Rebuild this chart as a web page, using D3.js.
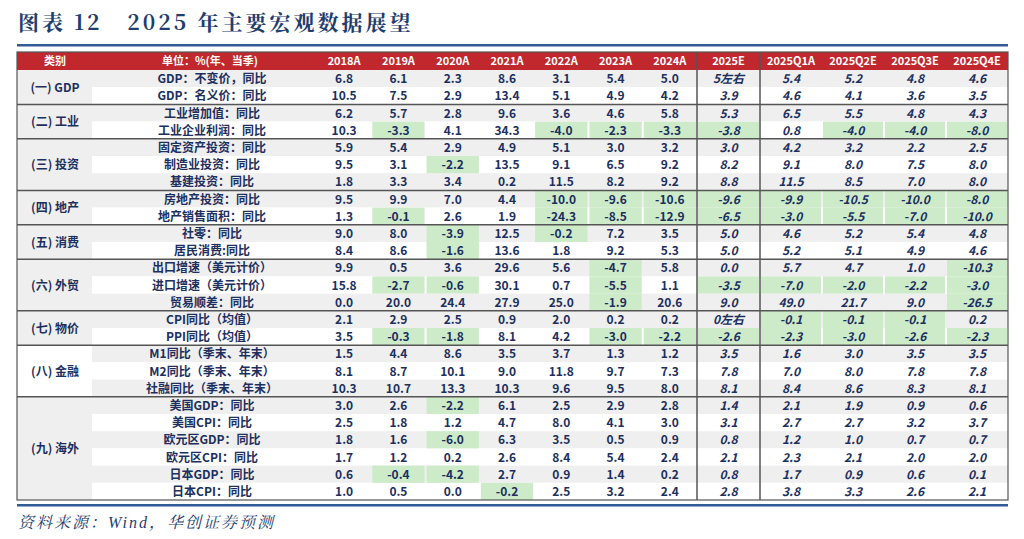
<!DOCTYPE html>
<html><head><meta charset="utf-8">
<script src="https://cdn.jsdelivr.net/npm/d3@7/dist/d3.min.js"></script>
<style>body{margin:0;background:#fff}</style></head>
<body><svg id="c" width="1024" height="539"></svg>
<script>
const title = "图表\u00a012\u00a0\u00a0\u00a02025\u00a0年主要宏观数据展望";
const source = "资料来源：Wind，华创证券预测";
const headers = ["类别","单位：%(年、当季)"];
const actualCols = ["2018A","2019A","2020A","2021A","2022A","2023A","2024A"];
const estCols = ["2025E"];
const quarterCols = ["2025Q1A","2025Q2E","2025Q3E","2025Q4E"];
const groups = [
  ["(一) GDP",2],["(二) 工业",2],["(三) 投资",3],["(四) 地产",2],["(五) 消费",2],
  ["(六) 外贸",3],["(七) 物价",2],["(八) 金融",3],["(九) 海外",6]
];
const rowLabels = ["GDP：不变价，同比","GDP：名义价：同比","工业增加值：同比","工业企业利润：同比",
 "固定资产投资：同比","制造业投资：同比","基建投资：同比","房地产投资：同比","地产销售面积：同比",
 "社零：同比","居民消费:同比","出口增速（美元计价）","进口增速（美元计价）","贸易顺差：同比",
 "CPI同比（均值）","PPI同比（均值）","M1同比（季末、年末）","M2同比（季末、年末）","社融同比（季末、年末）",
 "美国GDP：同比","美国CPI：同比","欧元区GDP：同比","欧元区CPI：同比","日本GDP：同比","日本CPI：同比"];
const values = [
 ["6.8","6.1","2.3","8.6","3.1","5.4","5.0","5左右","5.4","5.2","4.8","4.6"],
 ["10.5","7.5","2.9","13.4","5.1","4.9","4.2","3.9","4.6","4.1","3.6","3.5"],
 ["6.2","5.7","2.8","9.6","3.6","4.6","5.8","5.3","6.5","5.5","4.8","4.3"],
 ["10.3","-3.3","4.1","34.3","-4.0","-2.3","-3.3","-3.8","0.8","-4.0","-4.0","-8.0"],
 ["5.9","5.4","2.9","4.9","5.1","3.0","3.2","3.0","4.2","3.2","2.2","2.5"],
 ["9.5","3.1","-2.2","13.5","9.1","6.5","9.2","8.2","9.1","8.0","7.5","8.0"],
 ["1.8","3.3","3.4","0.2","11.5","8.2","9.2","8.8","11.5","8.5","7.0","8.0"],
 ["9.5","9.9","7.0","4.4","-10.0","-9.6","-10.6","-9.6","-9.9","-10.5","-10.0","-8.0"],
 ["1.3","-0.1","2.6","1.9","-24.3","-8.5","-12.9","-6.5","-3.0","-5.5","-7.0","-10.0"],
 ["9.0","8.0","-3.9","12.5","-0.2","7.2","3.5","5.0","4.6","5.2","5.4","4.8"],
 ["8.4","8.6","-1.6","13.6","1.8","9.2","5.3","5.0","5.2","5.1","4.9","4.6"],
 ["9.9","0.5","3.6","29.6","5.6","-4.7","5.8","0.0","5.7","4.7","1.0","-10.3"],
 ["15.8","-2.7","-0.6","30.1","0.7","-5.5","1.1","-3.5","-7.0","-2.0","-2.2","-3.0"],
 ["0.0","20.0","24.4","27.9","25.0","-1.9","20.6","9.0","49.0","21.7","9.0","-26.5"],
 ["2.1","2.9","2.5","0.9","2.0","0.2","0.2","0左右","-0.1","-0.1","-0.1","0.2"],
 ["3.5","-0.3","-1.8","8.1","4.2","-3.0","-2.2","-2.6","-2.3","-3.0","-2.6","-2.3"],
 ["1.5","4.4","8.6","3.5","3.7","1.3","1.2","3.5","1.6","3.0","3.5","3.5"],
 ["8.1","8.7","10.1","9.0","11.8","9.7","7.3","7.8","7.0","8.0","7.8","7.8"],
 ["10.3","10.7","13.3","10.3","9.6","9.5","8.0","8.1","8.4","8.6","8.3","8.1"],
 ["3.0","2.6","-2.2","6.1","2.5","2.9","2.8","1.4","2.1","1.9","0.9","0.6"],
 ["2.5","1.8","1.2","4.7","8.0","4.1","3.0","3.1","2.7","2.7","3.2","3.7"],
 ["1.8","1.6","-6.0","6.3","3.5","0.5","0.9","0.8","1.2","1.0","0.7","0.7"],
 ["1.7","1.2","0.2","2.6","8.4","5.4","2.4","2.1","2.3","2.1","2.0","2.0"],
 ["0.6","-0.4","-4.2","2.7","0.9","1.4","0.2","0.8","1.7","0.9","0.6","0.1"],
 ["1.0","0.5","0.0","-0.2","2.5","3.2","2.4","2.8","3.8","3.3","2.6","2.1"]
];
const svg = d3.select("#c");
const navy = "#1c2f5e", red = "#c0282d", green = "#cdebc9", gray = "#efefef", line = "#555";
const L = 17, R = 1008, headTop = 52, headH = 18, rowTop = 70;
const y = d3.scaleBand().domain(d3.range(rowLabels.length)).range([rowTop, 500]);
const xA = d3.scaleBand().domain(actualCols).range([317, 697]);
const xE = d3.scaleBand().domain(estCols).range([697, 760]);
const xQ = d3.scaleBand().domain(quarterCols).range([760, R]);
const cols = actualCols.concat(estCols, quarterCols);
const colScale = c => actualCols.includes(c) ? xA : estCols.includes(c) ? xE : xQ;
const font = "'Noto Sans CJK SC','Noto Sans',sans-serif";

svg.append("text").attr("x",18).attr("y",30).attr("fill","#1f3d6e")
  .attr("font-family","'Noto Serif CJK SC','Liberation Serif',serif").attr("font-weight","bold")
  .attr("font-size",21).attr("letter-spacing",3).text(title);
svg.append("rect").attr("x",L).attr("y",44).attr("width",R-L).attr("height",2.5).attr("fill","#2f5b96");

svg.append("rect").attr("x",L).attr("y",headTop).attr("width",R-L).attr("height",headH).attr("fill",red);
const hdr = [[headers[0],55],[headers[1],210]].concat(cols.map(c=>[c,colScale(c)(c)+colScale(c).bandwidth()/2]));
svg.selectAll(".h").data(hdr).join("text").attr("x",d=>d[1]).attr("y",headTop+13)
  .attr("text-anchor","middle").attr("fill","#fff").attr("font-family",font).attr("font-weight","bold")
  .attr("font-size",11).text(d=>d[0]);

const g = svg.append("g");
let start = 0;
const groupStarts = [];
groups.forEach(([name,n])=>{ groupStarts.push([name,start,n]); start+=n; });
groupStarts.forEach(([name,s,n])=>{
  for(let i=0;i<n;i++){
    const r = s+i, yy = y(r);
    g.append("rect").attr("x",92).attr("y",yy).attr("width",R-92).attr("height",y.bandwidth())
      .attr("fill", i%2===0 ? gray : "#fff");
  }
  g.append("rect").attr("x",L).attr("y",y(s)).attr("width",75).attr("height",y.bandwidth()*n)
    .attr("fill", ["(八) 金融"].includes(name) ? "#fff" : gray);
  g.append("text").attr("x",55).attr("y",y(s)+y.bandwidth()*n/2+4.5).attr("text-anchor","middle")
    .attr("fill",navy).attr("font-family",font).attr("font-weight","bold").attr("font-size",12).text(name);
});
rowLabels.forEach((lab,r)=>{
  g.append("text").attr("x",212).attr("y",y(r)+y.bandwidth()/2+4.5).attr("text-anchor","middle")
    .attr("fill",navy).attr("font-family",font).attr("font-weight","bold").attr("font-size",12).text(lab);
  values[r].forEach((v,j)=>{
    const c = cols[j], sc = colScale(c), x0 = sc(c);
    if (v.startsWith("-")) g.append("rect").attr("x",x0+1).attr("y",y(r)).attr("width",sc.bandwidth()-2)
      .attr("height",y.bandwidth()).attr("fill",green);
    g.append("text").attr("x",x0+sc.bandwidth()/2).attr("y",y(r)+y.bandwidth()/2+4.5)
      .attr("text-anchor","middle").attr("font-family",font).attr("font-weight","bold").attr("font-size",12)
      .attr("font-style", j>=7 ? "italic" : "normal").attr("fill",navy).text(v);
  });
});
groupStarts.forEach(([name,s,n],k)=>{
  if(k>0) g.append("line").attr("x1",L).attr("x2",R).attr("y1",y(s)).attr("y2",y(s)).attr("stroke",line).attr("stroke-width",1.5);
});
[697,760].forEach(xx=>g.append("line").attr("x1",xx).attr("x2",xx).attr("y1",headTop).attr("y2",500).attr("stroke",line).attr("stroke-width",1.5));
g.append("rect").attr("x",L).attr("y",headTop).attr("width",R-L).attr("height",500-headTop).attr("fill","none").attr("stroke",line).attr("stroke-width",1.2);

svg.append("rect").attr("x",L).attr("y",504).attr("width",R-L).attr("height",2.5).attr("fill","#2f5b96");
svg.append("text").attr("x",18).attr("y",528).attr("fill","#1f3d6e")
  .attr("font-family","'Liberation Serif','Noto Serif CJK SC',serif").attr("font-style","italic")
  .attr("font-size",16).attr("letter-spacing",2).text(source);
</script></body></html>
